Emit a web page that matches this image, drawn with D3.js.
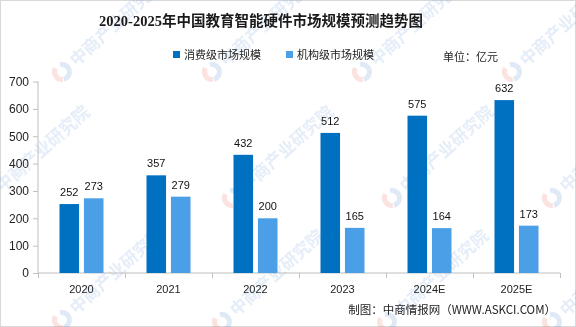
<!DOCTYPE html>
<html>
<head>
<meta charset="utf-8">
<script src="https://cdn.jsdelivr.net/npm/d3@7/dist/d3.min.js"></script>
<style>
  html, body { margin: 0; padding: 0; background: #fff; }
  svg { display: block; }
</style>
</head>
<body>
<svg id="chart" width="576" height="327"></svg>
<script>
// Market size of education smart hardware in China, 100 million yuan
const categories = ["2020", "2021", "2022", "2023", "2024E", "2025E"];
const consumerValues = [252, 357, 432, 512, 575, 632];
const institutionValues = [273, 279, 200, 165, 164, 173];
const seriesNames = ["消费级市场规模", "机构级市场规模"];
const seriesColors = ["#0070c0", "#4a9fe6"];
const yTicks = [0, 100, 200, 300, 400, 500, 600, 700];

const W = 576, H = 327;
const svg = d3.select("#chart");

// white card with a thin grey frame
svg.append("rect").attr("x", 0.5).attr("y", 0.5).attr("width", W - 1).attr("height", H - 1)
  .attr("fill", "#fff").attr("stroke", "#d9d9d9");

// faint diagonal brand marks behind the plot
const wmLayer = svg.append("g").attr("opacity", 0.15);
const wmSpots = [
  [62, 72], [212, 72], [362, 72], [512, 72],
  [-12, 198], [232, 198], [392, 198], [552, 198],
  [62, 320], [222, 322], [387, 322], [552, 322]
];
wmSpots.forEach(([x, y]) => {
  const g = wmLayer.append("g").attr("transform", `translate(${x},${y}) rotate(-42)`);
  const arc = d3.arc().innerRadius(5).outerRadius(10);
  g.append("path").attr("d", arc({ startAngle: Math.PI * 0.15, endAngle: Math.PI * 1.15 }))
    .attr("fill", "#2f6fc4");
  g.append("path").attr("d", arc({ startAngle: Math.PI * 1.2, endAngle: Math.PI * 1.9 }))
    .attr("fill", "#e0462f");
  g.append("text").attr("x", 14).attr("y", 6)
    .attr("font-family", "'Noto Sans CJK SC', sans-serif").attr("font-weight", "bold")
    .attr("font-size", 17).attr("fill", "#4a86d1")
    .text("中商产业研究院");
});

// title
svg.append("text").attr("x", 261).attr("y", 26).attr("text-anchor", "middle")
  .attr("font-family", "'Liberation Serif', 'Noto Sans CJK SC', serif")
  .attr("font-weight", "bold").attr("font-size", 14.5).attr("fill", "#1a1a1a")
  .text("2020-2025年中国教育智能硬件市场规模预测趋势图");

// legend
const legendX = [173, 286];
seriesNames.forEach((name, i) => {
  const g = svg.append("g").attr("transform", `translate(${legendX[i]},51)`);
  g.append("rect").attr("width", 7).attr("height", 7).attr("fill", seriesColors[i]);
  g.append("text").attr("x", 11).attr("y", 7.5)
    .attr("font-family", "'Noto Sans CJK SC', sans-serif").attr("font-size", 11)
    .attr("fill", "#222").text(name);
});

svg.append("text").attr("x", 443).attr("y", 61)
  .attr("font-family", "'Noto Sans CJK SC', sans-serif").attr("font-size", 11)
  .attr("fill", "#222").text("单位：亿元");

// scales
const x0 = d3.scaleBand().domain(categories).range([38, 560]).padding(0);
const groupW = 44;
const x1 = d3.scaleBand().domain([0, 1])
  .range([(x0.bandwidth() - groupW) / 2, (x0.bandwidth() + groupW) / 2]).paddingInner(0.2);
const y = d3.scaleLinear().domain([0, 700]).range([273, 81.5]);

// y axis
const yAxis = svg.append("g").attr("transform", "translate(38,0)")
  .call(d3.axisLeft(y).tickValues(yTicks).tickSize(5).tickPadding(4));
yAxis.selectAll("path, line").attr("stroke", "#bfbfbf");
yAxis.select(".domain").attr("d", `M0,${y(700)}V${y(0)}`);
yAxis.selectAll("text").attr("font-family", "'Liberation Sans', Arial, sans-serif")
  .attr("font-size", 12).attr("fill", "#222");

// x axis with tick marks between categories
const xAxisG = svg.append("g").attr("transform", `translate(0,${y(0)})`);
xAxisG.append("line").attr("x1", 38).attr("x2", 560).attr("stroke", "#bfbfbf");
const bounds = categories.map(c => x0(c)).concat([x0(categories[categories.length - 1]) + x0.bandwidth()]);
xAxisG.selectAll("line.tk").data(bounds).join("line").attr("class", "tk")
  .attr("x1", d => d + 0.5).attr("x2", d => d + 0.5).attr("y1", 0).attr("y2", 5)
  .attr("stroke", "#bfbfbf");
xAxisG.selectAll("text").data(categories).join("text")
  .attr("x", d => x0(d) + x0.bandwidth() / 2).attr("y", 20).attr("text-anchor", "middle")
  .attr("font-family", "'Liberation Sans', Arial, sans-serif").attr("font-size", 11)
  .attr("fill", "#222").text(d => d);

// bars and value labels
const rows = categories.map((c, i) => ({ c, vals: [consumerValues[i], institutionValues[i]] }));
const groups = svg.append("g").selectAll("g").data(rows).join("g")
  .attr("transform", d => `translate(${x0(d.c)},0)`);
groups.selectAll("rect").data(d => d.vals.map((v, k) => ({ v, k }))).join("rect")
  .attr("x", d => x1(d.k)).attr("width", x1.bandwidth())
  .attr("y", d => y(d.v)).attr("height", d => y(0) - y(d.v))
  .attr("fill", d => seriesColors[d.k]);
groups.selectAll("text").data(d => d.vals.map((v, k) => ({ v, k }))).join("text")
  .attr("x", d => x1(d.k) + x1.bandwidth() / 2).attr("y", d => y(d.v) - 8)
  .attr("text-anchor", "middle")
  .attr("font-family", "'Liberation Sans', Arial, sans-serif").attr("font-size", 11)
  .attr("fill", "#111").text(d => d.v);

// source line
svg.append("text").attr("x", 556).attr("y", 314).attr("text-anchor", "end")
  .attr("font-family", "'Noto Sans CJK SC', sans-serif").attr("font-size", 11.5)
  .attr("fill", "#222").text("制图：中商情报网（WWW.ASKCI.COM）");
</script>
</body>
</html>
